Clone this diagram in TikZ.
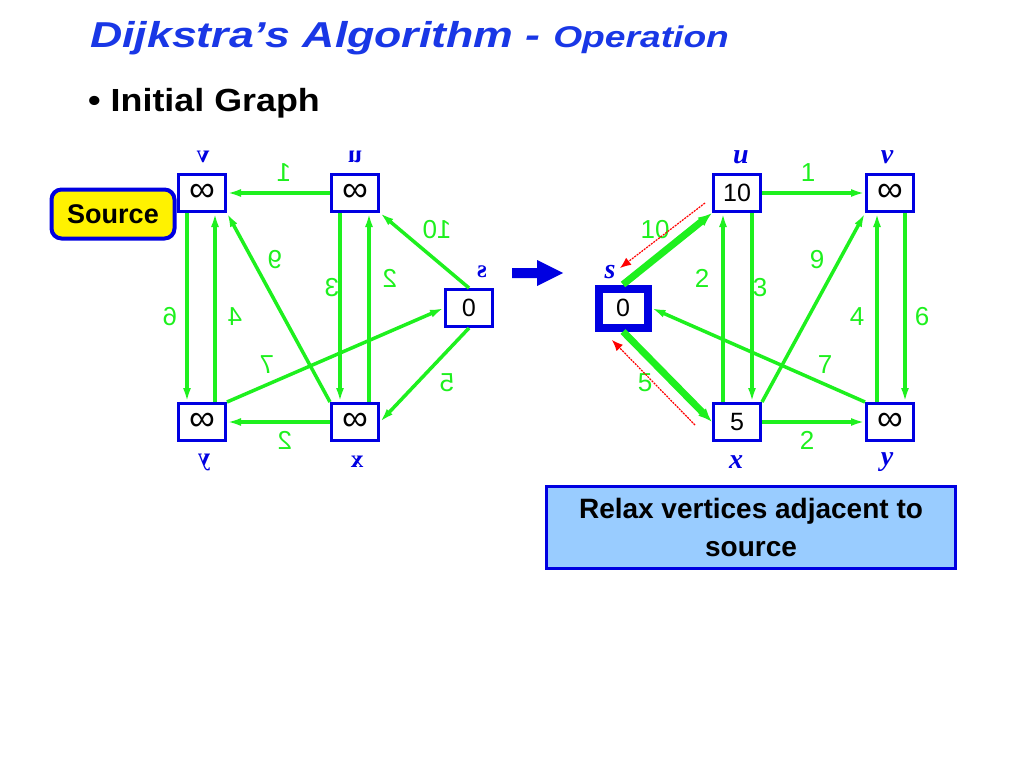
\documentclass[tikz,border=0pt]{standalone}
\usepackage{fontspec}
\setmainfont{Liberation Sans}
\newfontfamily\labelfont{Liberation Serif}
\usetikzlibrary{arrows.meta}

\definecolor{titleblue}{RGB}{25,55,230}
\definecolor{boxblue}{RGB}{0,0,225}
\definecolor{edgegreen}{RGB}{30,240,30}
\definecolor{relaxfill}{RGB}{153,204,255}

\tikzset{
  vertex/.style={draw=boxblue,line width=3pt,fill=white,minimum width=47pt,
    minimum height=37pt,inner sep=0pt,font=\fontsize{25}{25}\selectfont},
  srcvertex/.style={vertex,line width=8pt,minimum width=49pt,minimum height=39pt},
  vname/.style={text=boxblue,inner sep=0pt,font=\labelfont\bfseries\itshape\fontsize{28}{28}\selectfont},
  lvname/.style={vname,font=\labelfont\bfseries\fontsize{25}{25}\selectfont},
  weight/.style={text=edgegreen,inner sep=0pt,font=\fontsize{26}{26}\selectfont},
  edge/.style={draw=edgegreen,line width=3.5pt,-{Latex[length=14pt,width=8pt]}},
  treeedge/.style={edge,line width=7pt,-{Latex[length=14pt,width=11pt]}},
  relaxline/.style={draw=red,line width=1.2pt,dash pattern=on 2pt off 1pt,
    -{Latex[length=11pt,width=9pt,red]}}
}
\newcommand\weightlist{{(655,230)}/10,{(645,383)}/5,{(808,173)}/1,{(702,278)}/2,
  {(760,288)}/3,{(817,260)}/9,{(857,317)}/4,{(922,317)}/6,{(825,365)}/7,{(807,440)}/2}
\newcommand\unset{\fontsize{36}{36}\selectfont ∞}

\begin{document}
\begin{tikzpicture}[x=1pt,y=-1pt]
\useasboundingbox (0,0) rectangle (1024,768);

% title and bullet
\node[anchor=base west,text=titleblue,inner sep=0pt,xscale=1.24,
  font=\bfseries\itshape\fontsize{36}{36}\selectfont] (title) at (90,48)
  {Dijkstra’s Algorithm - {\fontsize{30}{30}\selectfont Operation}};
\node[anchor=base west,inner sep=0pt,xscale=1.12,font=\bfseries\fontsize{32}{32}\selectfont]
  (bullet) at (88,111) {\textbullet\ Initial Graph};

% initial graph, drawn mirrored
\begin{scope}[xshift=1092pt,xscale=-1,transform shape]
\node[vertex] (ls) at (623,308) {0};
\node[vertex] (lu) at (737,193) {\unset};
\node[vertex] (lv) at (890,193) {\unset};
\node[vertex] (lx) at (737,422) {\unset};
\node[vertex] (ly) at (890,422) {\unset};
\node[lvname] (lsn) at (610,272) {s};
\node[lvname] (lun) at (737,157) {u};
\node[lvname] (lvn) at (889,157) {v};
\node[lvname] (lxn) at (735,462) {x};
\node[lvname] (lyn) at (888,462) {y};
\draw[edge] (ls.north) -- (lu.south west);
\draw[edge] (ls.south) -- (lx.west);
\draw[edge] (lu.east) -- (lv.west);
\draw[edge] ([xshift=15pt]lu.south) -- ([xshift=15pt]lx.north);
\draw[edge] ([xshift=-14pt]lx.north) -- ([xshift=-14pt]lu.south);
\draw[edge] (lx.north east) -- (lv.south west);
\draw[edge] (lx.east) -- (ly.west);
\draw[edge] (ly.north west) -- (ls.east);
\draw[edge] ([xshift=15pt]lv.south) -- ([xshift=15pt]ly.north);
\draw[edge] ([xshift=-13pt]ly.north) -- ([xshift=-13pt]lv.south);
\foreach \pos/\w [count=\i] in \weightlist
  \node[weight] (lw\i) at \pos {\w};
\end{scope}

% callouts
\node[draw=boxblue,line width=4pt,fill=yellow,rounded corners=10pt,
  minimum width=123pt,minimum height=49pt,inner sep=0pt,
  font=\bfseries\fontsize{27}{27}\selectfont] (source) at (113,214) {Source};
\fill[boxblue] (512,268) -- (537,268) -- (537,260) -- (563,273) -- (537,286)
  -- (537,278) -- (512,278) -- cycle;

% graph after relaxing from s
\node[srcvertex] (s) at (623,308) {0};
\node[vertex] (u) at (737,193) {10};
\node[vertex] (v) at (890,193) {\unset};
\node[vertex] (x) at (737,422) {5};
\node[vertex] (y) at (890,422) {\unset};
\node[vname] (sn) at (610,272) {s};
\node[vname] (un) at (741,157) {u};
\node[vname] (vn) at (887,157) {v};
\node[vname] (xn) at (736,462) {x};
\node[vname] (yn) at (887,462) {y};
\draw[treeedge] (s.north) -- (u.south west);
\draw[treeedge] (s.south) -- (x.west);
\draw[edge] (u.east) -- (v.west);
\draw[edge] ([xshift=15pt]u.south) -- ([xshift=15pt]x.north);
\draw[edge] ([xshift=-14pt]x.north) -- ([xshift=-14pt]u.south);
\draw[edge] (x.north east) -- (v.south west);
\draw[edge] (x.east) -- (y.west);
\draw[edge] (y.north west) -- (s.east);
\draw[edge] ([xshift=15pt]v.south) -- ([xshift=15pt]y.north);
\draw[edge] ([xshift=-13pt]y.north) -- ([xshift=-13pt]v.south);
\foreach \pos/\w [count=\i] in \weightlist
  \node[weight] (w\i) at \pos {\w};
\coordinate (r1a) at (705,203);
\coordinate (r1b) at (620,268);
\coordinate (r2a) at (695,425);
\coordinate (r2b) at (612,340);
\draw[relaxline] (r1a) -- (r1b);
\draw[relaxline] (r2a) -- (r2b);

\node[draw=boxblue,line width=3pt,fill=relaxfill,minimum width=409pt,
  minimum height=82pt,align=center,inner sep=0pt,
  font=\bfseries\fontsize{28}{38}\selectfont] (relax) at (751,527)
  {Relax vertices adjacent to\\source};
\end{tikzpicture}
\end{document}
